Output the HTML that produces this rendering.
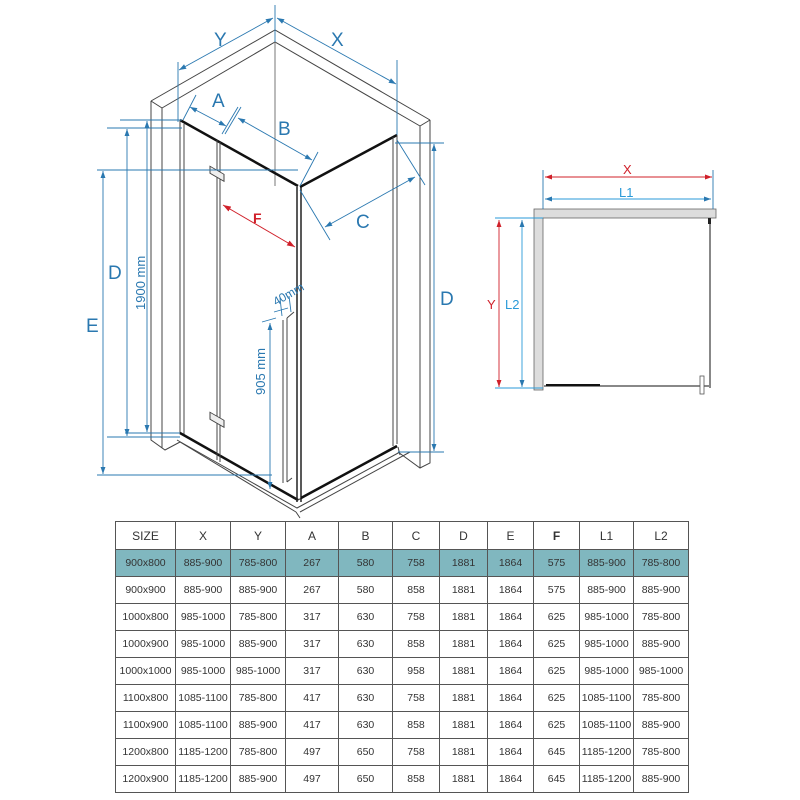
<!DOCTYPE html>
<html><head><meta charset="utf-8"><style>
html,body{margin:0;padding:0;background:#fff;width:800px;height:800px;overflow:hidden}
svg{position:absolute;left:0;top:0}
table{position:absolute;left:115px;top:521px;width:573px;table-layout:fixed;border-collapse:collapse;font-family:"Liberation Sans",sans-serif;font-size:10.5px;color:#333}
td{border:1px solid #555;height:26px;padding:0;text-align:center;white-space:nowrap;overflow:hidden}
tr.h td{height:27px;font-size:12px}
tr.hl td{background:#80b7bf}
</style></head><body>
<svg width="800" height="520" viewBox="0 0 800 520" font-family="Liberation Sans, sans-serif">
<defs>
<marker id="ab" viewBox="0 0 10 10" refX="10" refY="5" markerWidth="8" markerHeight="8" orient="auto-start-reverse"><path d="M0,1.5L10,5L0,8.5z" fill="#2a78b0"/></marker>
<marker id="ar" viewBox="0 0 10 10" refX="10" refY="5" markerWidth="8" markerHeight="8" orient="auto-start-reverse"><path d="M0,1.5L10,5L0,8.5z" fill="#d0202a"/></marker>
</defs>
<g fill="none" stroke="#444" stroke-width="1">
<path d="M151,101L275,30L430,120"/>
<path d="M162,108L275,42L420,126"/>
<path d="M151,101L162,108M430,120L420,126"/>
<path d="M275,42L275,186" stroke="#777"/>
<path d="M151,101L151,440L165,450L180,442"/>
<path d="M162,108L162,448"/>
<path d="M430,120L430,463L420,468L398,452"/>
<path d="M420,126L420,468"/>
<path d="M180,433L298,500L397,447"/>
<path d="M177,440L297,508L400,452"/>
<path d="M180,442L296,512M296,512L300,518M300,512L410,452"/>
<path d="M398,447L400,455"/>
<path d="M180,120L298,186" stroke="#111" stroke-width="2.5"/>
<path d="M180,120L180,433M184,124L184,436"/>
<path d="M180,433L298,500" stroke="#111" stroke-width="2.5"/>
<path d="M217,140L217,460M220,142L220,462"/>
<path d="M297,187L297,502M301,187L301,502" stroke="#222" stroke-width="1.5"/>
<path d="M300,187L397,135" stroke="#111" stroke-width="2.5"/>
<path d="M393,137L393,446M397,135L397,444"/>
<path d="M301,498L397,446" stroke="#111" stroke-width="2.5"/>
<rect x="210" y="166" width="14" height="7" transform="skewY(30) translate(0,-121)" fill="#eee"/>
<rect x="210" y="412" width="14" height="7" transform="skewY(30) translate(0,-121)" fill="#eee"/>
<path d="M283,320L283,483M287,318L287,482"/>
<path d="M287,318L294,312M287,482L292,478"/>
</g>
<g stroke="#2a78b0" stroke-width="0.9" fill="none">
<path d="M178,62L178,122M275,5L275,42M397,60L397,135"/>
<path d="M179,70L273,18" marker-start="url(#ab)" marker-end="url(#ab)"/>
<path d="M277,18L396,84" marker-start="url(#ab)" marker-end="url(#ab)"/>
<path d="M183,120L196,95M222,134L238,107M225,134L241,107M300,186L318,152"/>
<path d="M190,107L226,126" marker-start="url(#ab)" marker-end="url(#ab)"/>
<path d="M238,118L312,160" marker-start="url(#ab)" marker-end="url(#ab)"/>
<path d="M300,190L330,240M397,140L425,185"/>
<path d="M325,227L415,177" marker-start="url(#ab)" marker-end="url(#ab)"/>
<path d="M120,120L182,120M107,128L182,128M97,170L298,170M125,433L180,433M107,437L180,437M97,475L272,475"/>
<path d="M103,171L103,474" marker-start="url(#ab)" marker-end="url(#ab)"/>
<path d="M127,129L127,436" marker-start="url(#ab)" marker-end="url(#ab)"/>
<path d="M147,121L147,432" marker-start="url(#ab)" marker-end="url(#ab)"/>
<path d="M395,143L444,143M398,452L444,452"/>
<path d="M434,144L434,451" marker-start="url(#ab)" marker-end="url(#ab)"/>
<path d="M270,323L270,489" marker-start="url(#ab)" marker-end="url(#ab)"/>
<path d="M262,322L276,318M274,312L288,308M280,298L282,316M289,296L291,312"/>
</g>
<path d="M223,205L295,247" stroke="#d0202a" stroke-width="1" marker-start="url(#ar)" marker-end="url(#ar)"/>
<g fill="#2a78b0" font-size="19">
<text x="214" y="46">Y</text><text x="331" y="46">X</text>
<text x="212" y="107">A</text><text x="278" y="135">B</text>
<text x="356" y="228">C</text>
<text x="108" y="279">D</text><text x="86" y="332">E</text>
<text x="440" y="305">D</text>
</g>
<text x="253" y="223" fill="#d0202a" font-size="14" font-weight="bold">F</text>
<text transform="translate(145,310) rotate(-90)" fill="#2a78b0" font-size="13">1900 mm</text>
<text transform="translate(265,395) rotate(-90)" fill="#2a78b0" font-size="13">905 mm</text>
<text transform="translate(276,306) rotate(-30)" fill="#2a78b0" font-size="12">40mm</text>
<g>
<rect x="534" y="209" width="182" height="9" fill="#ddd" stroke="#666" stroke-width="0.8"/>
<rect x="534" y="218" width="9" height="172" fill="#ddd" stroke="#666" stroke-width="0.8"/>
<path d="M710,218L710,388" stroke="#888" stroke-width="2"/>
<path d="M544,386L710,386" stroke="#888" stroke-width="2"/>
<path d="M546,385L600,385" stroke="#111" stroke-width="2"/>
<rect x="700" y="376" width="4" height="18" fill="#fff" stroke="#555" stroke-width="0.8"/>
<rect x="708" y="218" width="3" height="6" fill="#222"/>
<g stroke-width="0.9" fill="none">
<path d="M543,170L543,209M713,170L713,209" stroke="#2a78b0"/>
<path d="M545,177L712,177" stroke="#d0202a" marker-start="url(#ar)" marker-end="url(#ar)"/>
<path d="M545,199L711,199" stroke="#2a9ad8" marker-start="url(#ab)" marker-end="url(#ab)"/>
<path d="M495,218L543,218M495,388L543,388" stroke="#2a9ad8"/>
<path d="M499,220L499,387" stroke="#d0202a" marker-start="url(#ar)" marker-end="url(#ar)"/>
<path d="M522,220L522,387" stroke="#2a9ad8" marker-start="url(#ab)" marker-end="url(#ab)"/>
</g>
<text x="623" y="174" fill="#d0202a" font-size="13">X</text>
<text x="619" y="197" fill="#2a9ad8" font-size="13">L1</text>
<text x="487" y="309" fill="#d0202a" font-size="13">Y</text>
<text x="505" y="309" fill="#2a9ad8" font-size="13">L2</text>
</g>
</svg>
<table>
<colgroup><col style="width:60px"><col style="width:55px"><col style="width:55px"><col style="width:53px"><col style="width:54px"><col style="width:47px"><col style="width:48px"><col style="width:46px"><col style="width:46px"><col style="width:54px"><col style="width:55px"></colgroup>
<tr class="h"><td>SIZE</td><td>X</td><td>Y</td><td>A</td><td>B</td><td>C</td><td>D</td><td>E</td><td><b>F</b></td><td>L1</td><td>L2</td></tr>
<tr class="hl"><td>900x800</td><td>885-900</td><td>785-800</td><td>267</td><td>580</td><td>758</td><td>1881</td><td>1864</td><td>575</td><td>885-900</td><td>785-800</td></tr>
<tr><td>900x900</td><td>885-900</td><td>885-900</td><td>267</td><td>580</td><td>858</td><td>1881</td><td>1864</td><td>575</td><td>885-900</td><td>885-900</td></tr>
<tr><td>1000x800</td><td>985-1000</td><td>785-800</td><td>317</td><td>630</td><td>758</td><td>1881</td><td>1864</td><td>625</td><td>985-1000</td><td>785-800</td></tr>
<tr><td>1000x900</td><td>985-1000</td><td>885-900</td><td>317</td><td>630</td><td>858</td><td>1881</td><td>1864</td><td>625</td><td>985-1000</td><td>885-900</td></tr>
<tr><td>1000x1000</td><td>985-1000</td><td>985-1000</td><td>317</td><td>630</td><td>958</td><td>1881</td><td>1864</td><td>625</td><td>985-1000</td><td>985-1000</td></tr>
<tr><td>1100x800</td><td>1085-1100</td><td>785-800</td><td>417</td><td>630</td><td>758</td><td>1881</td><td>1864</td><td>625</td><td>1085-1100</td><td>785-800</td></tr>
<tr><td>1100x900</td><td>1085-1100</td><td>885-900</td><td>417</td><td>630</td><td>858</td><td>1881</td><td>1864</td><td>625</td><td>1085-1100</td><td>885-900</td></tr>
<tr><td>1200x800</td><td>1185-1200</td><td>785-800</td><td>497</td><td>650</td><td>758</td><td>1881</td><td>1864</td><td>645</td><td>1185-1200</td><td>785-800</td></tr>
<tr><td>1200x900</td><td>1185-1200</td><td>885-900</td><td>497</td><td>650</td><td>858</td><td>1881</td><td>1864</td><td>645</td><td>1185-1200</td><td>885-900</td></tr>
</table>
</body></html>
